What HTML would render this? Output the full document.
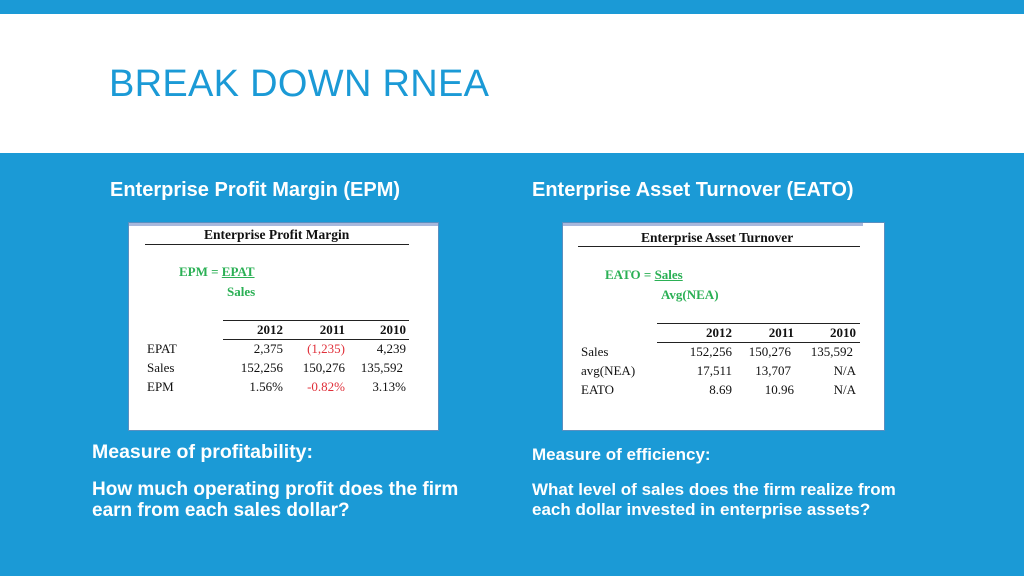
<!DOCTYPE html>
<html><head><meta charset="utf-8"><style>
body{margin:0;width:1024px;height:576px;overflow:hidden;background:#1b9ad6;position:relative;font-family:"Liberation Sans",sans-serif}
.a{position:absolute;white-space:nowrap}
.w{color:#fff;font-weight:bold}
.img{position:absolute;background:#fff;border:1px solid #5a8fc0;box-sizing:border-box}
.t{font-family:"Liberation Serif",serif;color:#111;font-size:13px;position:absolute;white-space:nowrap;line-height:14px}
.g{color:#2bb055;font-weight:bold}
.r{text-align:right;width:60px}
.ln{position:absolute;height:1px;background:#222}
.red{color:#e0303a}
</style></head><body>
<div style="position:absolute;left:0;top:14px;width:1024px;height:139px;background:#fff"></div>
<div class="a" style="left:109px;top:62px;font-size:38px;color:#1b9ad6;line-height:44px;letter-spacing:0.3px">BREAK DOWN RNEA</div>

<div class="a w" style="left:110px;top:178px;font-size:20px;line-height:24px">Enterprise Profit Margin (EPM)</div>
<div class="a w" style="left:532px;top:178px;font-size:20px;line-height:24px">Enterprise Asset Turnover (EATO)</div>

<div class="img" style="left:128px;top:222px;width:311px;height:209px">
 <div style="position:absolute;left:0;top:0;width:100%;height:3px;background:#a8b8dc"></div>
</div>
<div class="t" style="left:204px;top:228px;font-weight:bold;font-size:13.5px">Enterprise Profit Margin</div>
<div class="ln" style="left:145px;top:244px;width:264px"></div>
<div class="t g" style="left:179px;top:265px">EPM = <u>EPAT</u></div>
<div class="t g" style="left:227px;top:285px">Sales</div>
<div class="ln" style="left:223px;top:320px;width:186px"></div>
<div class="ln" style="left:223px;top:339px;width:186px"></div>
<div class="t r" style="left:223px;top:323px;font-weight:bold">2012</div>
<div class="t r" style="left:285px;top:323px;font-weight:bold">2011</div>
<div class="t r" style="left:346px;top:323px;font-weight:bold">2010</div>
<div class="t" style="left:147px;top:342px">EPAT</div>
<div class="t" style="left:147px;top:361px">Sales</div>
<div class="t" style="left:147px;top:380px">EPM</div>
<div class="t r" style="left:223px;top:342px">2,375</div>
<div class="t r red" style="left:285px;top:342px">(1,235)</div>
<div class="t r" style="left:346px;top:342px">4,239</div>
<div class="t r" style="left:223px;top:361px">152,256</div>
<div class="t r" style="left:285px;top:361px">150,276</div>
<div class="t r" style="left:343px;top:361px">135,592</div>
<div class="t r" style="left:223px;top:380px">1.56%</div>
<div class="t r red" style="left:285px;top:380px">-0.82%</div>
<div class="t r" style="left:346px;top:380px">3.13%</div>

<div class="img" style="left:562px;top:222px;width:323px;height:209px">
 <div style="position:absolute;left:0;top:0;width:300px;height:3px;background:#a8b8dc"></div>
</div>
<div class="t" style="left:641px;top:231px;font-weight:bold;font-size:13.5px">Enterprise Asset Turnover</div>
<div class="ln" style="left:578px;top:246px;width:282px"></div>
<div class="t g" style="left:605px;top:268px">EATO = <u>Sales</u></div>
<div class="t g" style="left:661px;top:288px">Avg(NEA)</div>
<div class="ln" style="left:657px;top:323px;width:203px"></div>
<div class="ln" style="left:657px;top:342px;width:203px"></div>
<div class="t r" style="left:672px;top:326px;font-weight:bold">2012</div>
<div class="t r" style="left:734px;top:326px;font-weight:bold">2011</div>
<div class="t r" style="left:796px;top:326px;font-weight:bold">2010</div>
<div class="t" style="left:581px;top:345px">Sales</div>
<div class="t" style="left:581px;top:364px">avg(NEA)</div>
<div class="t" style="left:581px;top:383px">EATO</div>
<div class="t r" style="left:672px;top:345px">152,256</div>
<div class="t r" style="left:731px;top:345px">150,276</div>
<div class="t r" style="left:793px;top:345px">135,592</div>
<div class="t r" style="left:672px;top:364px">17,511</div>
<div class="t r" style="left:731px;top:364px">13,707</div>
<div class="t r" style="left:796px;top:364px">N/A</div>
<div class="t r" style="left:672px;top:383px">8.69</div>
<div class="t r" style="left:734px;top:383px">10.96</div>
<div class="t r" style="left:796px;top:383px">N/A</div>

<div class="a w" style="left:92px;top:440px;font-size:19.5px;line-height:24px">Measure of profitability:</div>
<div class="a w" style="left:92px;top:479px;font-size:19px;line-height:21px">How much operating profit does the firm<br>earn from each sales dollar?</div>
<div class="a w" style="left:532px;top:445px;font-size:17px;line-height:20px">Measure of efficiency:</div>
<div class="a w" style="left:532px;top:480px;font-size:17px;line-height:20px">What level of sales does the firm realize from<br>each dollar invested in enterprise assets?</div>
</body></html>
